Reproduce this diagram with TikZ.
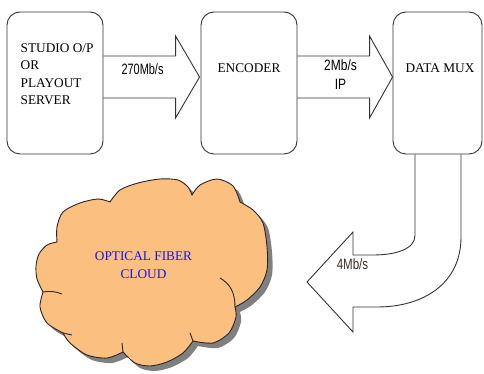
\documentclass[tikz,border=0pt]{standalone}
\usepackage{fontspec}
\setmainfont{Liberation Serif}
\newfontfamily\ratefont{Liberation Sans}
\usetikzlibrary{calc}
\definecolor{cloudfill}{RGB}{251,191,128}
\definecolor{cloudshadow}{RGB}{128,128,128}
\definecolor{ratebrown}{RGB}{60,45,30}
\definecolor{cloudtext}{RGB}{20,20,255}
\newcommand\condensed[2]{\scalebox{#1}[1]{#2}}

\begin{document}
\begin{tikzpicture}[x=1pt,y=1pt,
  stage/.style={draw=black!80, line width=0.9pt, rounded corners=13pt,
    minimum width=96pt, minimum height=142pt, inner sep=0pt},
  stagetext/.style={inner sep=0pt, font=\fontsize{13.3}{17.2}\selectfont, align=left},
  rate/.style={inner sep=0pt, font=\ratefont\fontsize{15}{19}\selectfont, align=center},
  fat/.style={draw=black!80, line width=0.9pt, line join=miter},
  cloudline/.style={draw=black!85, line width=0.9pt},
  cloudoutline/.style={insert path={
    plot[smooth] coordinates {(43,82) (37,95) (36,108) (39,120) (47,129) (57,132)}
    -- plot[smooth] coordinates {(57,132) (57,147) (63,162) (80,171) (98,175) (110,172)}
    -- plot[smooth] coordinates {(110,172) (120,184) (138,191) (160,195) (178,194) (188,187) (192,179)}
    -- plot[smooth] coordinates {(192,179) (200,189) (217,195) (233,188) (240,172)}
    -- plot[smooth] coordinates {(240,172) (253,164) (263,151) (267,127) (267,104) (260,87) (247,74) (235,67)}
    -- plot[smooth] coordinates {(235,67) (236,57) (229,41) (213,31) (193,33)}
    -- plot[smooth] coordinates {(193,33) (183,21) (167,12) (150,8) (135,11) (123,22)}
    -- plot[smooth] coordinates {(123,22) (107,16) (87,19) (70,31) (63,41)}
    -- plot[smooth] coordinates {(63,41) (47,51) (40,67) (43,82)}
    -- cycle}}
]
\useasboundingbox (0,0) rectangle (484,374);

% the three stages
\node[stage] (studio) at (55,291) {};
\node[stage] (enc) at (249,291) {};
\node[stage, minimum width=89pt] (mux) at (437.5,291) {};

\node[stagetext, anchor=north west] (studiotxt) at (20.5,330.4)
  {STUDIO O/P\\OR\\PLAYOUT\\SERVER};
\node[stagetext] (enctxt) at (249,305.7) {ENCODER};
\node[stagetext] (muxtxt) at (440,305.7) {DATA MUX};

% block arrow: studio -> encoder
\coordinate (a1s) at ($(studio.east)+(0,6)$);
\coordinate (a1t) at ($(enc.west)+(-1,6)$);
\draw[fat] ($(a1s)+(0,21)$) -- ($(a1t)+(-24,21)$) -- ($(a1t)+(-24,41)$)
  -- (a1t) -- ($(a1t)+(-24,-41)$) -- ($(a1t)+(-24,-21)$) -- ($(a1s)+(0,-21)$);
\node[rate] (r1) at (142.5,304.5) {\condensed{0.73}{270Mb/s}};

% block arrow: encoder -> mux
\coordinate (a2s) at ($(enc.east)+(0,6)$);
\coordinate (a2t) at ($(mux.west)+(0,6)$);
\draw[fat] ($(a2s)+(0,21)$) -- ($(a2t)+(-23,21)$) -- ($(a2t)+(-23,41)$)
  -- (a2t) -- ($(a2t)+(-23,-41)$) -- ($(a2t)+(-23,-21)$) -- ($(a2s)+(0,-21)$);
\node[rate] (r2) at (340.5,299.5) {\condensed{0.8}{2Mb/s}\\\condensed{0.8}{IP}};

% optical fiber cloud with its shadow
\begin{scope}[shift={(5,-5)}]
  \fill[cloudshadow] [cloudoutline];
\end{scope}
\draw[cloudline, fill=cloudfill] [cloudoutline];
\draw[cloudline] (43,82) to[bend left=15] (62,80);
\draw[cloudline] (235,67) .. controls (235,82) and (230,90) .. (220,96);
\draw[cloudline] (193,33) -- (190,41);
\draw[cloudline] (123,22) -- (122,31);
\draw[cloudline] (63,41) -- (72,39);
\node[font=\fontsize{13.3}{18.3}\selectfont, align=center, text=cloudtext, inner sep=0pt]
  (cloudtxt) at (143.5,108.8) {OPTICAL FIBER\\CLOUD};

% curved block arrow: mux -> cloud
\coordinate (c1) at ($(mux.south)+(-22.5,0)$);
\coordinate (c2) at ($(mux.south)+(23.5,0)$);
\coordinate (dtip) at (307,92);
\draw[fat] (c1) -- ++(0,-81) .. controls +(0,-14) and (395,119) .. (373,119)
  -- (353,119) -- (353,142) -- (dtip) -- (353,42) -- (353,67) -- (377,67)
  .. controls (423,67) and (461,90) .. (461,137) -- (c2);
\node[rate, text=ratebrown] (r3) at (352.5,110) {\condensed{0.77}{4Mb/s}};
\end{tikzpicture}
\end{document}
